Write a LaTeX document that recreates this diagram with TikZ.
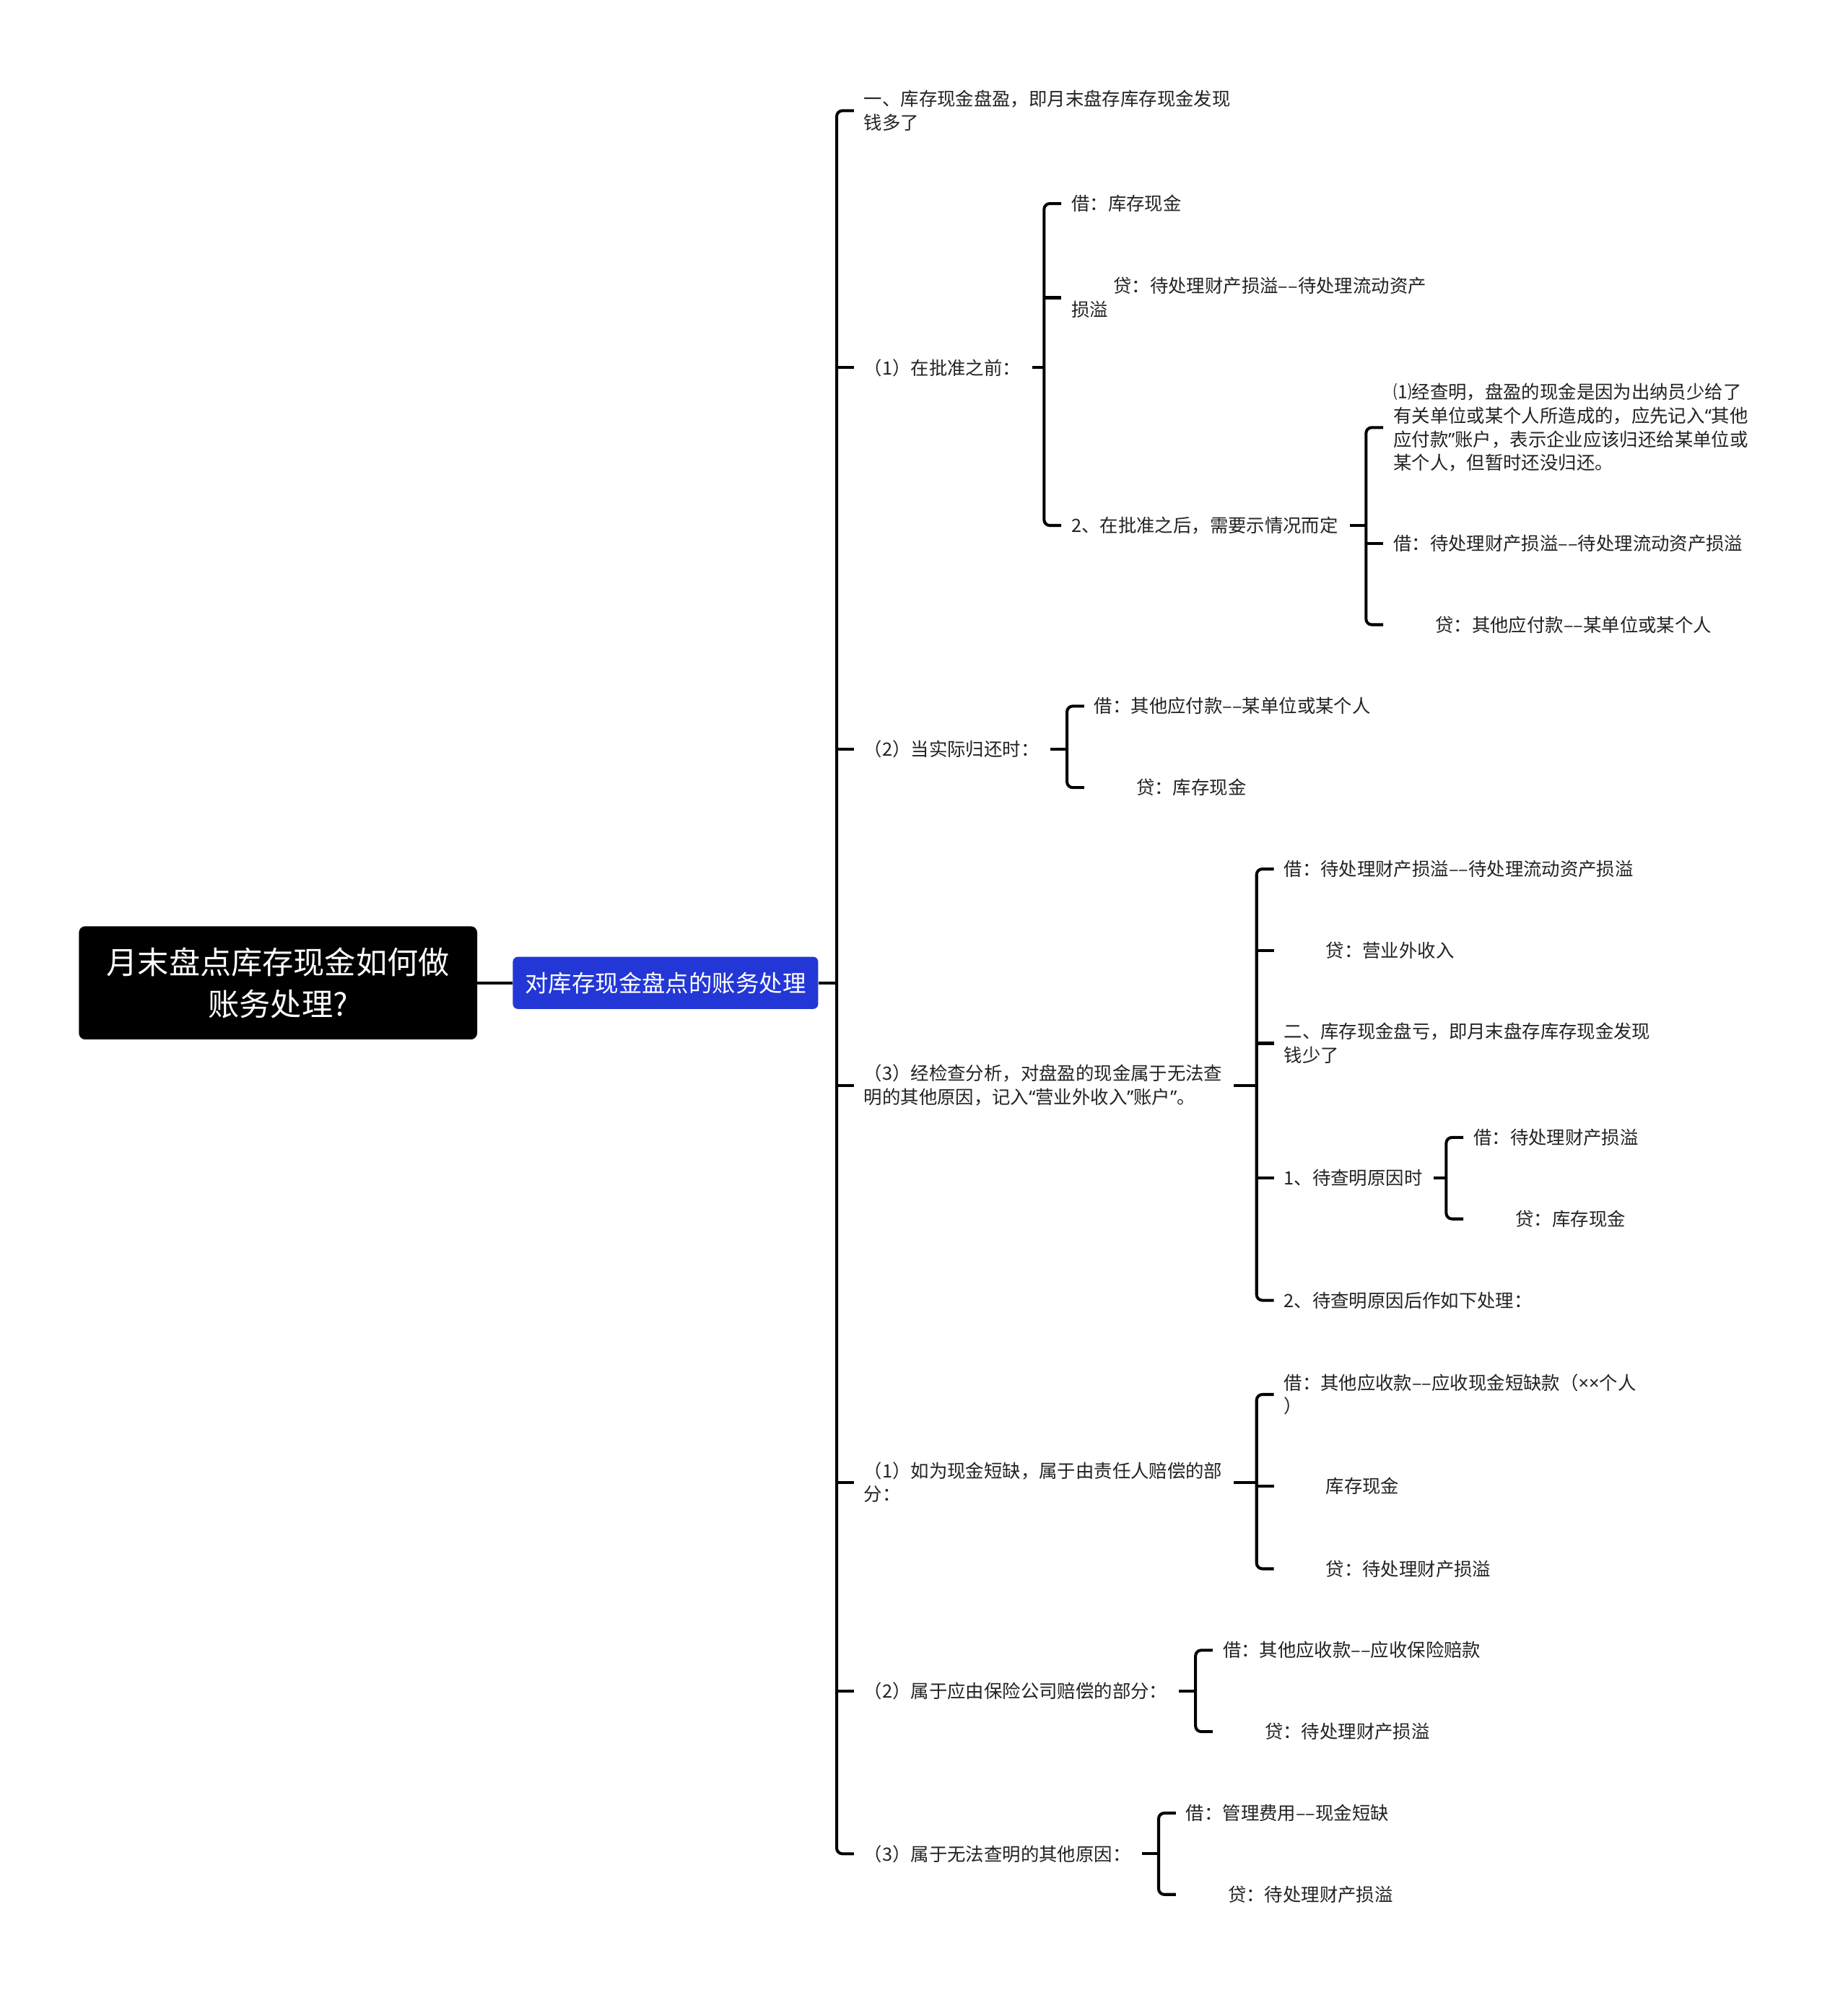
\documentclass[tikz,border=0pt]{standalone}
\usepackage{fontspec}
\setmainfont{Noto Sans CJK SC}
\newfontfamily\latinf{Noto Sans}
\definecolor{deepblue}{HTML}{2337D6}
\definecolor{inkgray}{HTML}{222222}

\begin{document}
\begin{tikzpicture}[x=1pt,y=-1pt,
  leaf/.style={anchor=west,inner sep=0pt,outer sep=0pt,align=left,text=inkgray,font=\fontsize{14.4}{18.5}\selectfont},
  link/.style={line width=2.3pt,rounded corners=4.5pt}]
\useasboundingbox (0,0) rectangle (1452,1568);
\node[fill=black,rounded corners=5pt,minimum width=313pt,minimum height=89pt,text=white,align=center,font=\fontsize{24.5}{33}\selectfont] (root) at (218.5,772.5) {月末盘点库存现金如何做\\账务处理?};
\node[fill=deepblue,rounded corners=4pt,minimum width=240pt,minimum height=41pt,text=white,font=\fontsize{18.4}{22}\selectfont] (topic) at (523,772.5) {对库存现金盘点的账务处理};
\node[leaf] (n1) at (679,87) {一、库存现金盘盈，即月末盘存库存现金发现\\钱多了};
\node[leaf] (n2) at (679,289) {（1）在批准之前：};
\node[leaf] (n3) at (679,589) {（2）当实际归还时：};
\node[leaf] (n4) at (679,853) {（3）经检查分析，对盘盈的现金属于无法查\\明的其他原因，记入{\latinf “}营业外收入{\latinf ”}账户{\latinf ”}。};
\node[leaf] (n5) at (679,1165) {（1）如为现金短缺，属于由责任人赔偿的部\\分：};
\node[leaf] (n6) at (679,1329) {（2）属于应由保险公司赔偿的部分：};
\node[leaf] (n7) at (679,1457) {（3）属于无法查明的其他原因：};
\node[leaf] (n2a) at (842,160) {借：库存现金};
\node[leaf] (n2b) at (842,234) {\hspace*{33pt}贷：待处理财产损溢––待处理流动资产\\损溢};
\node[leaf] (n2c) at (842,413) {2、在批准之后，需要示情况而定};
\node[leaf] (n2c1) at (1095,336) {⑴经查明，盘盈的现金是因为出纳员少给了\\有关单位或某个人所造成的，应先记入{\latinf “}其他\\应付款{\latinf ”}账户，表示企业应该归还给某单位或\\某个人，但暂时还没归还。};
\node[leaf] (n2c2) at (1095,427) {借：待处理财产损溢––待处理流动资产损溢};
\node[leaf] (n2c3) at (1095,491) {\hspace*{33pt}贷：其他应付款––某单位或某个人};
\node[leaf] (n3a) at (860,555) {借：其他应付款––某单位或某个人};
\node[leaf] (n3b) at (860,619) {\hspace*{33pt}贷：库存现金};
\node[leaf] (n4a) at (1009,683) {借：待处理财产损溢––待处理流动资产损溢};
\node[leaf] (n4b) at (1009,747) {\hspace*{33pt}贷：营业外收入};
\node[leaf] (n4c) at (1009,820) {二、库存现金盘亏，即月末盘存库存现金发现\\钱少了};
\node[leaf] (n4d) at (1009,926) {1、待查明原因时};
\node[leaf] (n4e) at (1009,1022) {2、待查明原因后作如下处理：};
\node[leaf] (n4d1) at (1158,894) {借：待处理财产损溢};
\node[leaf] (n4d2) at (1158,958) {\hspace*{33pt}贷：库存现金};
\node[leaf] (n5a) at (1009,1096) {借：其他应收款––应收现金短缺款（{\latinf ××}个人\\）};
\node[leaf] (n5b) at (1009,1168) {\hspace*{33pt}库存现金};
\node[leaf] (n5c) at (1009,1233) {\hspace*{33pt}贷：待处理财产损溢};
\node[leaf] (n6a) at (961,1297) {借：其他应收款––应收保险赔款};
\node[leaf] (n6b) at (961,1361) {\hspace*{33pt}贷：待处理财产损溢};
\node[leaf] (n7a) at (932,1425) {借：管理费用––现金短缺};
\node[leaf] (n7b) at (932,1489) {\hspace*{33pt}贷：待处理财产损溢};
\draw[link] (root) -- (topic);
\draw[link] (topic.east) -- ([xshift=-21.5pt]n1.west |- topic.east);
\foreach \a/\z in {n1/n7,n2a/n2c,n2c1/n2c3,n3a/n3b,n4a/n4e,n4d1/n4d2,n5a/n5c,n6a/n6b,n7a/n7b}{\draw[link] ([xshift=-8pt]\a.west) -- ++(-13.5,0) |- ([xshift=-8pt]\z.west);}
\foreach \c in {n2,n3,n4,n5,n6,n2b,n2c2,n4b,n4c,n4d,n5b}{\draw[link] ([xshift=-8pt]\c.west) -- ++(-13.5,0);}
\foreach \p/\a in {n2/n2a,n2c/n2c1,n3/n3a,n4/n4a,n4d/n4d1,n5/n5a,n6/n6a,n7/n7a}{\draw[link] ([xshift=9pt]\p.east) -- ([xshift=-21.5pt]\a.west |- \p.east);}
\end{tikzpicture}
\end{document}
